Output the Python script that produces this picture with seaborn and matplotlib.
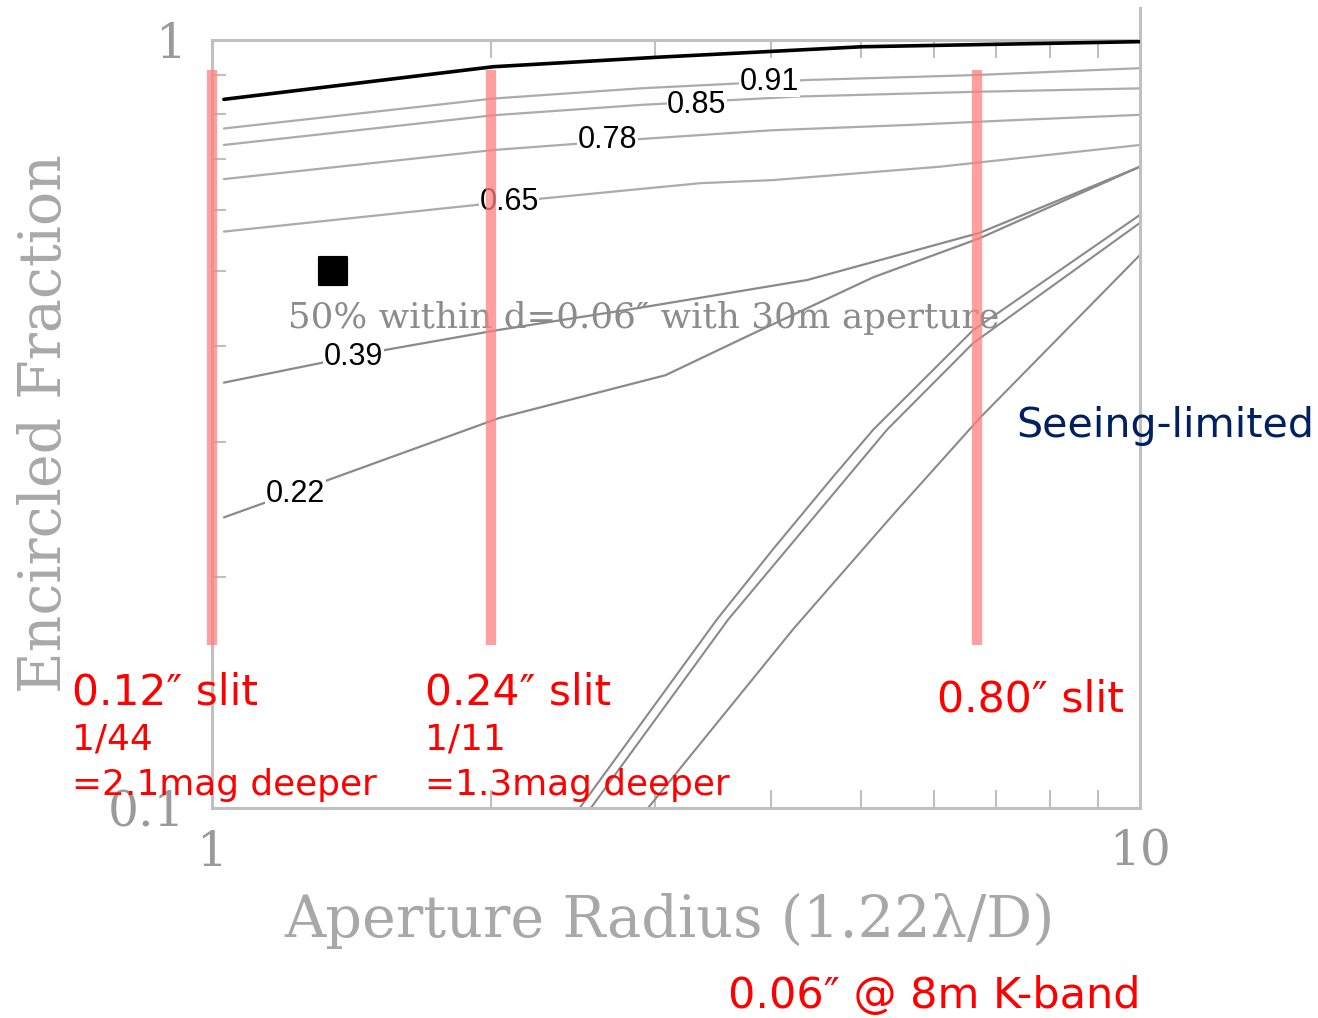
# Encircled fraction vs aperture radius (AO Strehl curves + seeing-limited)

import numpy as np
import pandas as pd
import seaborn as sns
import matplotlib.pyplot as plt
from matplotlib.ticker import NullFormatter

# Courbes : rayon (1.22 lambda/D) et fraction encerclée
perfect_r = [1.03, 2.01, 3.04, 5.02, 10.0]
perfect_f = [0.837, 0.923, 0.950, 0.980, 0.995]

s091_r = [1.03, 2.01, 2.89, 4.38, 6.61, 10.0]
s091_f = [0.767, 0.839, 0.865, 0.887, 0.900, 0.919]

s085_r = [1.03, 2.01, 2.89, 4.27, 6.61, 10.0]
s085_f = [0.730, 0.798, 0.823, 0.844, 0.856, 0.865]

s078_r = [1.03, 2.01, 2.89, 4.02, 5.61, 7.42, 10.0]
s078_f = [0.659, 0.719, 0.743, 0.763, 0.775, 0.787, 0.799]

s065_r = [1.03, 1.93, 3.36, 4.02, 6.09, 10.0]
s065_f = [0.563, 0.610, 0.651, 0.657, 0.684, 0.730]

s039_r = [1.03, 1.54, 2.03, 2.89, 4.38, 6.72, 10.0]
s039_f = [0.358, 0.395, 0.419, 0.448, 0.487, 0.561, 0.684]

s022_r = [1.03, 1.33, 2.04, 3.08, 3.80, 5.16, 6.72, 10.0]
s022_f = [0.239, 0.267, 0.322, 0.366, 0.413, 0.491, 0.552, 0.684]

# Seeing-limited
see1_r = [2.49, 3.50, 4.02, 4.67, 5.16, 6.61, 10.0]
see1_f = [0.100, 0.176, 0.217, 0.270, 0.311, 0.419, 0.592]
see2_r = [2.56, 3.60, 5.34, 6.61, 10.0]
see2_f = [0.100, 0.176, 0.311, 0.403, 0.578]
see3_r = [2.95, 4.23, 5.42, 6.72, 10.0]
see3_f = [0.100, 0.171, 0.241, 0.322, 0.525]

# Fentes (rayon en 1.22 lambda/D)
slit_r = [1.0, 2.0, 6.67]
slit_lo, slit_hi = 0.163, 0.914

# Etiquettes des courbes
curve_labels = ["0.91", "0.85", "0.78", "0.65", "0.39", "0.22"]
label_r = [3.99, 3.33, 2.67, 2.09, 1.42, 1.23]
label_f = [0.882, 0.823, 0.741, 0.615, 0.387, 0.256]

# Point 50 %
mark_r = [1.35]
mark_f = [0.50]

GRAY_AXIS = "#c0c0c0"
GRAY_TXT = "#9a9a9a"
RED = "#ff0000"
NAVY = "#002060"

sns.set_theme(style="white")
plt.rcParams['font.family'] = ['DejaVu Sans']

fig = plt.figure(figsize=(13.18, 10.18), dpi=100)
ax = fig.add_axes([0.16085, 0.20629, 0.70410, 0.75442])
ax.set_xscale('log')
ax.set_yscale('log')

# Courbes AO
sns.lineplot(x=perfect_r, y=perfect_f, ax=ax, color="black", linewidth=2.6, zorder=3)
for r, f in [(s091_r, s091_f), (s085_r, s085_f), (s078_r, s078_f), (s065_r, s065_f)]:
    sns.lineplot(x=r, y=f, ax=ax, color="#ababab", linewidth=1.6, zorder=2)
for r, f in [(s039_r, s039_f), (s022_r, s022_f)]:
    sns.lineplot(x=r, y=f, ax=ax, color="#8a8a8a", linewidth=1.6, zorder=2)
for r, f in [(see1_r, see1_f), (see2_r, see2_f), (see3_r, see3_f)]:
    sns.lineplot(x=r, y=f, ax=ax, color="#8a8a8a", linewidth=1.5, zorder=2)

sns.scatterplot(x=mark_r, y=mark_f, ax=ax, marker='s', s=19.5 ** 2, color="black",
                edgecolor="black", zorder=5)

for txt, r, f in zip(curve_labels, label_r, label_f):
    ax.text(r, f, txt, ha='center', va='center', fontsize=22, color="black",
            family=['Liberation Sans', 'DejaVu Sans'], zorder=3.5,
            bbox=dict(facecolor="white", edgecolor="none", pad=0.5))

ax.text(1.207, 0.4217, "50% within d=0.06\u2033 with 30m aperture", ha='left', va='baseline',
        fontsize=25.7, color="#8c8c8c", family=['DejaVu Serif'], zorder=3)

# Barres rouges des fentes
ax.vlines(slit_r, slit_lo, slit_hi, colors="#ff7f7f", linewidth=7.4, alpha=0.75,
          zorder=4, clip_on=False)

ax.set_xlim(1, 10)
ax.set_ylim(0.1, 1)

# Axes et graduations
for side in ['left', 'right', 'top', 'bottom']:
    ax.spines[side].set_color(GRAY_AXIS)
    ax.spines[side].set_linewidth(2.2)
ax.spines['right'].set_bounds(0.1, 1.1)

ax.set_xticks([1, 10], labels=["1", "10"])
ax.set_yticks([0.1, 1], labels=["0.1", "1"])
ax.xaxis.set_minor_formatter(NullFormatter())
ax.yaxis.set_minor_formatter(NullFormatter())
ax.tick_params(which='major', length=0, labelsize=35, labelcolor=GRAY_TXT)
ax.tick_params(axis='x', which='major', pad=15)
ax.tick_params(axis='y', which='major', pad=19)
ax.tick_params(axis='x', which='minor', direction='in', top=True, bottom=True,
               length=13, width=1.5, color=GRAY_AXIS)
ax.tick_params(axis='y', which='minor', direction='in', left=True, right=False,
               length=10, width=1.5, color=GRAY_AXIS)
for lab in ax.get_xticklabels() + ax.get_yticklabels():
    lab.set_family(['DejaVu Serif'])

ax.set_xlabel("Aperture Radius (1.22\u03bb/D)", fontsize=41.2, color="#a8a8a8",
              family=['DejaVu Serif'])
ax.set_ylabel("Encircled Fraction", fontsize=41, color="#a8a8a8", family=['DejaVu Serif'])
ax.xaxis.set_label_coords(0.4935, -0.11)
ax.yaxis.set_label_coords(-0.15, 0.5)

# Annotations
kw = dict(ha='left', va='baseline', color=RED, family=['DejaVu Sans'])
fig.text(0.0546, 0.3084, "0.12\u2033 slit", fontsize=30.5, **kw)
fig.text(0.0546, 0.2633, "1/44", fontsize=25.8, **kw)
fig.text(0.0546, 0.2191, "=2.1mag deeper", fontsize=25.8, **kw)
fig.text(0.3225, 0.3084, "0.24\u2033 slit", fontsize=30.5, **kw)
fig.text(0.3225, 0.2633, "1/11", fontsize=25.8, **kw)
fig.text(0.3225, 0.2191, "=1.3mag deeper", fontsize=25.8, **kw)
fig.text(0.7109, 0.3006, "0.80\u2033 slit", fontsize=30.7, **kw)
fig.text(0.5524, 0.0095, "0.06\u2033 @ 8m K-band", fontsize=31, **kw)
fig.text(0.7709, 0.5707, "Seeing-limited", fontsize=29.7, ha='left', va='baseline',
         color=NAVY, family=['DejaVu Sans'])

fig.savefig("out.png", dpi=100)
